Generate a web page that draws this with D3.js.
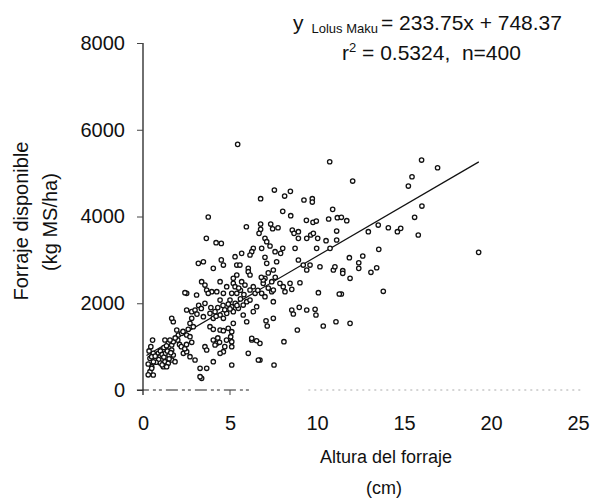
<!DOCTYPE html>
<html>
<head>
<meta charset="utf-8">
<script src="https://cdn.jsdelivr.net/npm/d3@7"></script>
<style>
  body { margin: 0; background: #fff; }
  svg { font-family: "Liberation Sans", Arial, sans-serif; }
  .txt { white-space: pre; }
</style>
</head>
<body>
<svg width="595" height="501"></svg>
<script>
// Altura del forraje (cm) and forraje disponible (kg MS/ha)
const alturaCm = [
  5.44, 10.73, 7.55, 8.47, 8.14, 6.76, 9.25, 9.73, 9.73, 10.9, 8.03, 8.49, 3.75, 9.39, 9.77, 9.96, 10.67, 11.17,
  5.94, 6.76, 6.76, 6.67, 7.34, 7.45, 7.76, 8.58, 8.93, 8.93, 8.68, 9.64, 9.79, 9.41, 10.04, 10.52, 11.13, 11.13,
  3.64, 4.2, 4.5, 7.01, 7.11, 7.30, 6.34, 6.82, 8.03, 8.74, 9.98, 10.75,
  16.01, 16.93, 12.05, 15.46, 15.25, 16.03, 15.61, 11.40, 11.71, 13.52, 14.10, 14.62, 14.81, 12.95, 15.82, 19.29,
  13.55, 11.86, 12.63, 12.40, 12.40, 11.48, 11.48, 13.10, 13.43, 11.9, 11.40, 13.81, 11.90,
  7.01, 7.11, 7.68, 7.91, 7.59, 7.49, 8.93, 9.21, 9.41, 9.60, 10.17, 10.94, 11.03, 7.01, 6.91, 7.40, 7.87, 8.06,
  8.16, 8.45, 9.02, 8.55, 6.82, 7.01, 7.40, 7.49, 10.08, 11.28, 8.55, 8.64, 8.98, 9.41, 9.89, 9.94, 7.07, 7.14,
  7.49, 8.87, 10.36, 11.09, 8.10, 7.53, 6.72, 6.72,
  3.85, 4.04, 4.43, 4.62, 4.90, 5.10, 5.04, 5.10, 5.10, 5.19, 5.96, 4.04, 4.24, 4.14, 3.56, 3.66, 4.62, 4.43,
  6.25, 6.53, 6.05, 6.63, 4.04, 5.10, 3.66, 3.28, 3.37,
  1.74, 2.70, 2.89, 1.94, 2.03, 2.22, 2.51, 2.70, 1.26, 1.45, 1.65, 1.74, 0.59, 0.88, 0.98, 1.07, 1.26, 1.45,
  1.65, 1.17, 1.36, 0.40, 0.50, 0.40, 0.59, 1.84, 2.32, 2.51, 2.70, 2.99, 1.65, 1.74,
  5.29, 5.67, 6.25, 6.15, 3.47, 4.04, 4.62, 5.39, 5.57, 6.05, 6.05, 6.15, 5.39, 5.19, 3.37, 3.56, 3.66, 3.95,
  4.43, 4.81, 5.19, 5.29, 5.39, 5.10, 5.67, 5.86, 6.15, 6.34, 6.44, 4.62, 4.43, 5.0, 5.10, 3.56, 3.85, 4.14,
  4.43, 4.81, 5.19, 5.48, 5.76, 5.96, 6.15, 3.47, 4.04, 4.62, 5.76, 6.34, 6.53,
  3.18, 2.51, 3.08, 2.51, 2.80, 2.99, 1.65, 2.80,
  4.5, 2.41, 3.75, 4.24, 6.91, 7.49, 6.25, 3.28, 0.5, 0.5, 1.55,
  1.0, 1.1, 1.2, 1.3, 1.4, 1.5, 1.6, 1.2, 1.35, 0.9, 1.0, 1.1, 1.5, 0.7, 0.75, 2.0, 2.1, 1.85, 2.3, 2.6,
  0.3, 0.35, 0.45, 0.55, 0.6, 0.3,
  4.3, 4.6, 4.9, 5.3, 5.6, 5.0, 4.7, 4.2, 5.4, 3.9, 3.2, 3.35, 3.1, 5.8, 5.6, 5.5,
  6.6, 6.8, 7.2, 7.2, 7.6, 4.3, 4.4, 4.7, 4.8, 2.2, 2.5, 2.8, 2.4
];
const forrajeKg = [
  5663, 5262, 4610, 4580, 4472, 4410, 4380, 4410, 4333, 4165, 4119, 4018, 3988, 3911, 3865, 3895, 3942, 3972,
  3764, 3826, 3704, 3612, 3826, 3718, 3741, 3688, 3649, 3496, 3612, 3573, 3612, 3496, 3496, 3442, 3665, 3458,
  3496, 3396, 3380, 3496, 3419, 3320, 3266, 3266, 3266, 3266, 3266, 3266,
  5302, 5124, 4817, 4917, 4702, 4241, 3981, 3981, 3903, 3803, 3741, 3649, 3727, 3649, 3573, 3174,
  3243, 3050, 3089, 2934, 2805, 2750, 2690, 2713, 2819, 2575, 2213, 2275, 1537,
  3059, 2920, 2957, 3151, 3188, 2766, 2997, 2881, 2766, 2881, 2842, 2766, 2842, 2575, 2459, 2497, 2459, 2381,
  2266, 2459, 2473, 2321, 2229, 2151, 2266, 2036, 2243, 2213, 1844, 1752, 1906, 1844, 1860, 1729, 1597, 1475,
  1653, 1383, 1475, 1574, 1113, 576, 1076, 692,
  1459, 1399, 1383, 1367, 1422, 1344, 1229, 1113, 998, 1537, 1574, 1153, 1076, 1037, 998, 922, 883, 846,
  1153, 1136, 846, 692, 653, 576, 500, 500, 270,
  1574, 1537, 1459, 1383, 1268, 1306, 1268, 1229, 1153, 1076, 1037, 1113, 846, 846, 768, 692, 653, 615,
  692, 537, 537, 730, 537, 422, 346, 653, 846, 883, 768, 692, 922, 807,
  3073, 3151, 3188, 3112, 2957, 2805, 2881, 2881, 2881, 2805, 2727, 2651, 2651, 2575, 2497, 2420, 2305, 2266,
  2497, 2381, 2459, 2381, 2229, 2229, 2497, 2420, 2305, 2381, 2229, 2229, 2074, 2074, 1920, 1998, 1767, 1806,
  1729, 1767, 1806, 1883, 1959, 2036, 2074, 1690, 1653, 1653, 1729, 1806, 1920,
  2920, 2229, 2190, 1844, 1806, 1844, 1653, 1653,
  3000, 2243, 2229, 2266, 2536, 2305, 1191, 307, 768, 500, 1153,
  900, 820, 760, 850, 900, 800, 860, 980, 1020, 700, 620, 580, 720, 780, 640, 1150, 1050, 1200, 1350, 1400,
  600, 900, 1000, 1150, 650, 350,
  1900, 1950, 1980, 2000, 2100, 1870, 1850, 1700, 1950, 1900, 1950, 1880, 1750, 2200, 2300, 2350,
  2300, 2600, 2700, 2350, 2600, 1200, 1100, 1000, 1150, 1000, 1050, 1100, 950
];

const xTicks = [0, 5, 10, 15, 20, 25];
const yTicks = [0, 2000, 4000, 6000, 8000];
const slope = 233.75;
const intercept = 748.37;
const lineRange = [0.2, 19.3];

const svg = d3.select('svg');

const x = d3.scaleLinear().domain([0, 25]).range([143, 578]);
const y = d3.scaleLinear().domain([0, 8000]).range([390, 43]);

// y axis
const yAxis = svg.append('g')
    .attr('transform', 'translate(143,0)')
    .call(d3.axisLeft(y).tickValues(yTicks).tickFormat(d3.format('d'))
        .tickSize(6).tickPadding(12).tickSizeOuter(0));
yAxis.select('.domain').attr('stroke', '#222').attr('stroke-width', 1.3)
    .attr('d', `M0,${y(0) + 5}V${y(8000)}`);
yAxis.selectAll('.tick line').attr('stroke', '#444');
yAxis.selectAll('text').attr('font-size', 20).attr('fill', '#111')
    .attr('font-family', '"Liberation Sans", Arial, sans-serif');

// x axis (broken, faint line like the scan)
const xAxis = svg.append('g')
    .attr('transform', `translate(0,${y(0)})`)
    .call(d3.axisBottom(x).tickValues(xTicks).tickSize(0).tickPadding(26));
xAxis.select('.domain').remove();
xAxis.selectAll('text').attr('font-size', 20).attr('fill', '#111')
    .attr('font-family', '"Liberation Sans", Arial, sans-serif');

svg.append('line')
    .attr('x1', x(-0.35)).attr('x2', x(6.3))
    .attr('y1', y(0)).attr('y2', y(0))
    .attr('stroke', '#222').attr('stroke-width', 1.2)
    .attr('stroke-dasharray', '12,4,3,3,3,4');
svg.append('line')
    .attr('x1', x(9.5)).attr('x2', x(25.2))
    .attr('y1', y(0)).attr('y2', y(0))
    .attr('stroke', '#aaa').attr('stroke-width', 1)
    .attr('stroke-dasharray', '2,4');
svg.append('line')
    .attr('x1', x(5)).attr('x2', x(5))
    .attr('y1', y(0)).attr('y2', y(0) + 5)
    .attr('stroke', '#444');

// regression line
svg.append('line')
    .attr('x1', x(lineRange[0])).attr('y1', y(slope * lineRange[0] + intercept))
    .attr('x2', x(lineRange[1])).attr('y2', y(slope * lineRange[1] + intercept))
    .attr('stroke', '#111').attr('stroke-width', 1.2);

// points
svg.append('g').selectAll('circle')
    .data(alturaCm.map((d, i) => [d, forrajeKg[i]]))
    .enter().append('circle')
    .attr('cx', d => x(d[0]))
    .attr('cy', d => y(d[1]))
    .attr('r', 2.2)
    .attr('fill', '#fff')
    .attr('stroke', '#111')
    .attr('stroke-width', 1.3);

// equation
const eq = svg.append('text').attr('class', 'txt').attr('x', 293).attr('y', 30)
    .attr('font-size', 21).attr('fill', '#111');
eq.append('tspan').text('y');
eq.append('tspan').attr('dx', 8).attr('font-size', 13).attr('dy', 3).text('Lolus Maku');
eq.append('tspan').attr('dx', 3).attr('dy', -3).text('= 233.75x + 748.37');

const eq2 = svg.append('text').attr('class', 'txt').attr('x', 342).attr('y', 60)
    .attr('font-size', 21).attr('fill', '#111');
eq2.append('tspan').text('r');
eq2.append('tspan').attr('font-size', 13).attr('dy', -8).text('2');
eq2.append('tspan').attr('dy', 8).text(' = 0.5324,  n=400');

// axis titles
svg.append('text').attr('transform', 'translate(28,221) rotate(-90)')
    .attr('text-anchor', 'middle').attr('font-size', 20).attr('fill', '#111')
    .text('Forraje disponible');
svg.append('text').attr('transform', 'translate(57,222) rotate(-90)')
    .attr('text-anchor', 'middle').attr('font-size', 20).attr('fill', '#111')
    .text('(kg MS/ha)');

svg.append('text').attr('x', 386).attr('y', 463)
    .attr('text-anchor', 'middle').attr('font-size', 18).attr('fill', '#111')
    .text('Altura del forraje');
svg.append('text').attr('x', 384).attr('y', 494)
    .attr('text-anchor', 'middle').attr('font-size', 18).attr('fill', '#111')
    .text('(cm)');
</script>
</body>
</html>
